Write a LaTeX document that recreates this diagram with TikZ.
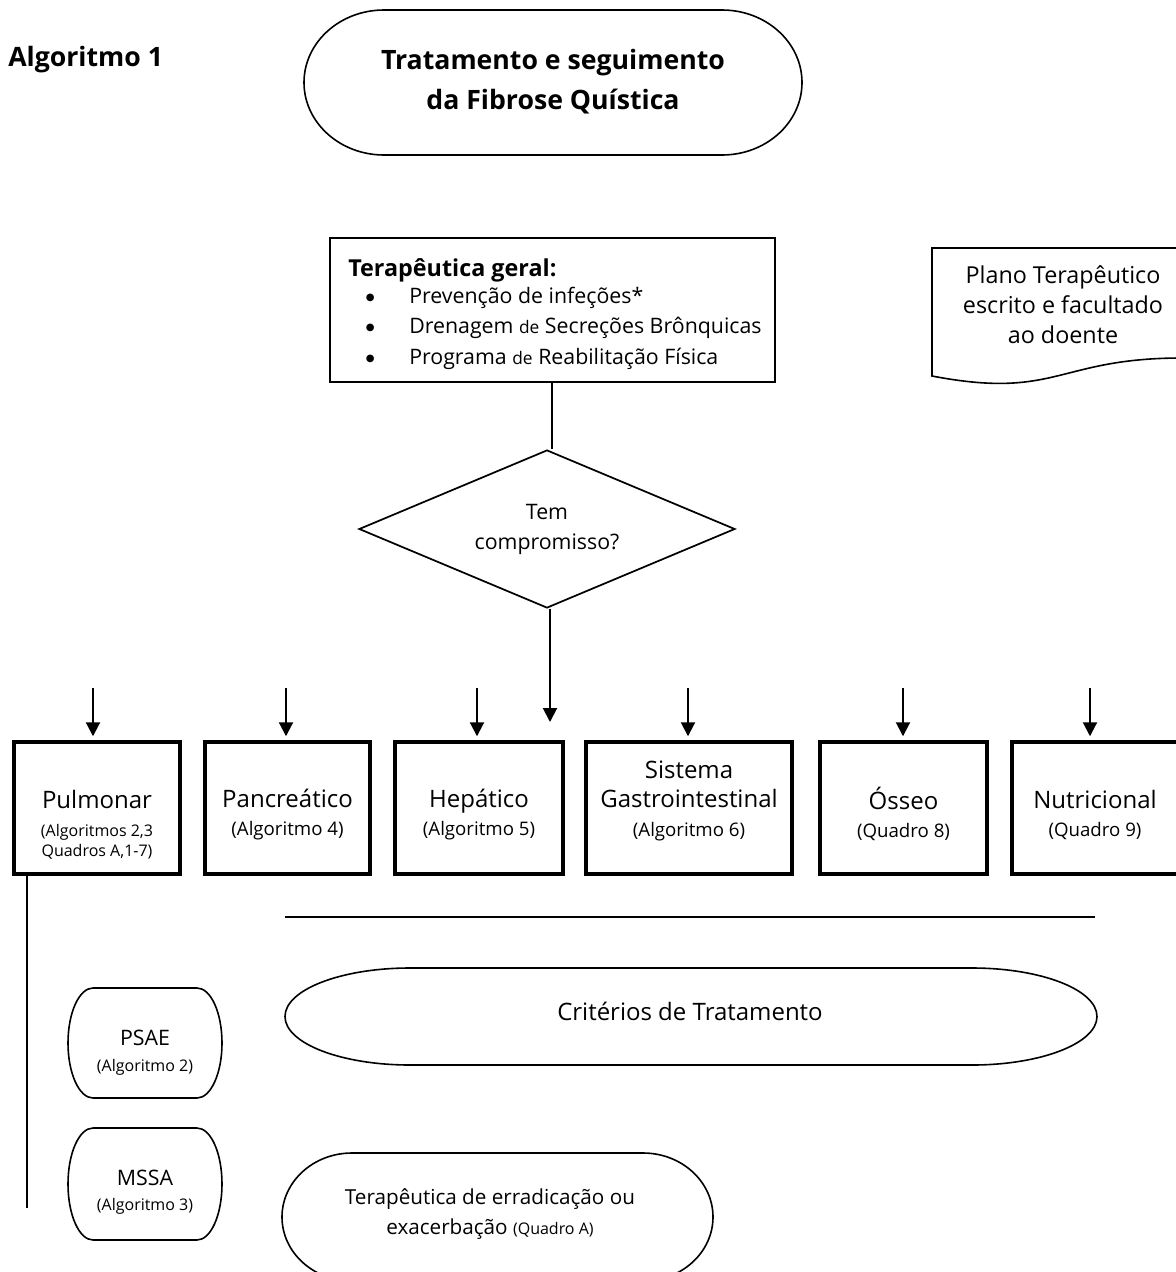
\documentclass[tikz,border=0pt]{standalone}
\usepackage{fontspec}
\setmainfont{Open Sans}
\newfontfamily\symfont{DejaVu Sans}
\usetikzlibrary{shapes.geometric,arrows.meta}

% Terminator outline with elliptic ends: x1, x2, y1, y2, horizontal end radius
\newcommand\fcapsule[5]{%
  \pgfmathsetmacro\cA{#1+#5}\pgfmathsetmacro\cB{#2-#5}%
  \pgfmathsetmacro\cM{(#3+#4)/2}%
  \pgfmathsetmacro\cR{0.5523*#5}\pgfmathsetmacro\cH{0.5523*(#4-#3)/2}%
  \draw[thinline] (\cA,#3) -- (\cB,#3)
    .. controls (\cB+\cR,#3) and (#2,\cM-\cH) .. (#2,\cM)
    .. controls (#2,\cM+\cH) and (\cB+\cR,#4) .. (\cB,#4)
    -- (\cA,#4)
    .. controls (\cA-\cR,#4) and (#1,\cM+\cH) .. (#1,\cM)
    .. controls (#1,\cM-\cH) and (\cA-\cR,#3) .. (\cA,#3) -- cycle;}

\newcommand\fsz[2]{\fontsize{#1}{#2}\selectfont}
% list bullet
\newcommand\lbul{\llap{\raisebox{2pt}{\symfont\fontsize{7.5}{9}\selectfont ●}\hspace{26pt}}}

\begin{document}
\begin{tikzpicture}[x=0.75pt,y=-0.75pt,
  thinline/.style={line width=1.2pt},
  conn/.style={line width=1.4pt},
  arr/.style={line width=1.5pt,-{Triangle[width=10.5pt,length=10.5pt]}},
  sysbox/.style={draw,line width=2.6pt,minimum height=99pt,inner sep=0pt},
  txt/.style={align=center,inner sep=0pt}]

\useasboundingbox (0,0) rectangle (1176,1272);
\fill[white] (0,0) rectangle (1176,1272);

% heading and start terminator
\node[anchor=west,inner sep=0pt,font=\fsz{20}{24}\bfseries] (alg) at (8,60) {Algoritmo 1};
\fcapsule{304}{802}{10}{155}{80}
\node[txt,font=\fsz{20}{30}\bfseries] (title) at (553,82) {Tratamento e seguimento\\da Fibrose Quística};

% general therapy box
\node[draw,line width=1.5pt,minimum width=333.75pt,minimum height=108pt,inner sep=0pt] (gen) at (552,310) {};
\node[anchor=base west,inner sep=0pt,font=\fsz{17.5}{21}\bfseries] (gen-h) at (348,276) {Terapêutica geral:};
\node[anchor=base west,inner sep=0pt,font=\fsz{16}{20}] (gen-1) at (409,303)
  {\lbul Prevenção de infeções*};
\node[anchor=base west,inner sep=0pt,font=\fsz{16}{20}] (gen-2) at (409,333)
  {\lbul Drenagem {\fsz{13}{16}de} Secreções Brônquicas};
\node[anchor=base west,inner sep=0pt,font=\fsz{16}{20}] (gen-3) at (409,364)
  {\lbul Programa {\fsz{13}{16}de} Reabilitação Física};

% written plan (document shape)
\draw[thinline] (1182,248) -- (932,248) -- (932,376)
  .. controls (1057,400) and (1057,358) .. (1182,358);
\node[txt,font=\fsz{17.5}{22.5}] (doc) at (1063,305) {Plano Terapêutico\\escrito e facultado\\ao doente};

% decision
\node[draw,diamond,shape aspect=2.38,line width=1.3pt,minimum width=282pt,minimum height=118.5pt,inner sep=0pt,
  align=center,font=\fsz{16}{22.5}] (dec) at (547,529) {Tem\\compromisso?};
\draw[conn] (gen.south) -- (gen.south |- dec.north);
\coordinate (hub) at (550,722);
\draw[arr] (hub |- dec.south) -- (hub);

% organ systems
\node[sysbox,minimum width=124.5pt] (pulm) at (97,808) {};
\node[sysbox,minimum width=123.75pt] (panc) at (287.5,808) {};
\node[sysbox,minimum width=126pt] (hep) at (479,808) {};
\node[sysbox,minimum width=154.5pt] (gast) at (689,808) {};
\node[sysbox,minimum width=125.25pt] (oss) at (903.5,808) {};
\node[sysbox,minimum width=124.5pt] (nutr) at (1095,808) {};

\node[txt,font=\fsz{18}{21}] (pulm-t) at (97,825) {Pulmonar\\{\fsz{12}{15}(Algoritmos 2,3}\\[-6pt]{\fsz{12}{15}Quadros A,1-7)}};
\node[txt,font=\fsz{18}{21}] (panc-t) at (287.5,815) {Pancreático\\{\fsz{14}{17}(Algoritmo 4)}};
\node[txt,font=\fsz{18}{21}] (hep-t) at (479,815) {Hepático\\{\fsz{14}{17}(Algoritmo 5)}};
\node[txt,font=\fsz{18}{22}] (gast-t) at (689,801) {Sistema\\Gastrointestinal\\{\fsz{14}{17}(Algoritmo 6)}};
\node[txt,font=\fsz{18}{21}] (oss-t) at (903.5,814) {Ósseo\\{\fsz{14}{17}(Quadro 8)}};
\node[txt,font=\fsz{18}{21}] (nutr-t) at (1095,815) {Nutricional\\{\fsz{14}{17}(Quadro 9)}};

\coordinate (in1) at (93,688);
\coordinate (in2) at (286,688);
\coordinate (in3) at (477,688);
\coordinate (in4) at (688,688);
\coordinate (in5) at (903,688);
\coordinate (in6) at (1090,688);
\draw[arr,shorten >=3pt] (in1) -- (in1 |- pulm.north);
\draw[arr,shorten >=3pt] (in2) -- (in2 |- panc.north);
\draw[arr,shorten >=3pt] (in3) -- (in3 |- hep.north);
\draw[arr,shorten >=3pt] (in4) -- (in4 |- gast.north);
\draw[arr,shorten >=3pt] (in5) -- (in5 |- oss.north);
\draw[arr,shorten >=3pt] (in6) -- (in6 |- nutr.north);

% separator
\coordinate (sep1) at (285,917);
\coordinate (sep2) at (1095,917);
\draw[conn] (sep1) -- (sep2);

% pulmonary branch line
\coordinate (pl) at (27,1208);
\draw[thinline] (pl |- pulm.south) -- (pl);

% pulmonary pathogens
\fcapsule{68}{222}{988}{1098}{25}
\node[txt,font=\fsz{16}{19.5}] (psae) at (145,1053) {PSAE\\{\fsz{12}{15}(Algoritmo 2)}};
\fcapsule{68}{222}{1128}{1240}{25}
\node[txt,font=\fsz{16}{19}] (mssa) at (145,1192) {MSSA\\{\fsz{12}{15}(Algoritmo 3)}};

% criteria and therapy terminators
\fcapsule{285}{1097}{968}{1065}{125}
\node[txt,font=\fsz{18}{22}] (crit) at (690,1011) {Critérios de Tratamento};
\fcapsule{282}{713}{1153}{1281}{70}
\node[txt,font=\fsz{15.5}{23}] (erad) at (490,1214) {Terapêutica de erradicação ou\\exacerbação {\fsz{12}{15}(Quadro A)}};

\end{tikzpicture}
\end{document}
